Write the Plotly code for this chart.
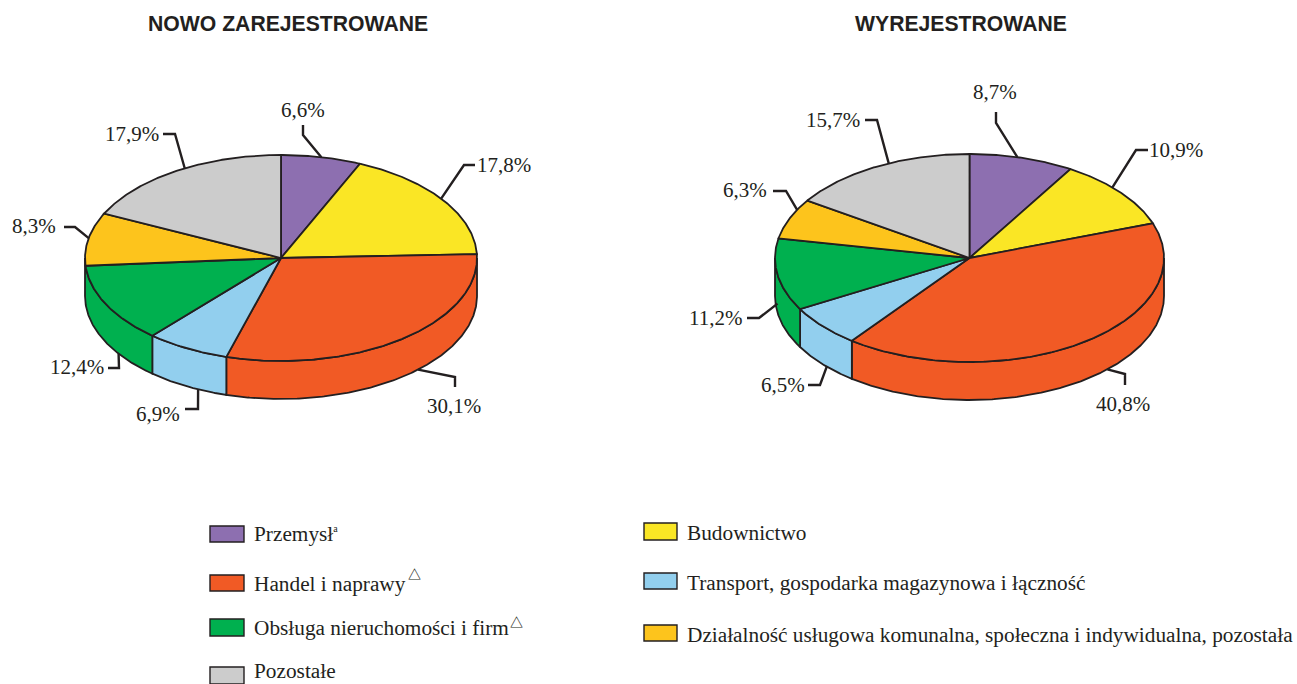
import numpy as np
import plotly.graph_objects as go

# ---- data ----
CATEGORIES = ["Przemysł", "Budownictwo", "Handel i naprawy",
              "Transport, gospodarka magazynowa i łączność",
              "Obsługa nieruchomości i firm",
              "Działalność usługowa komunalna, społeczna i indywidualna, pozostała",
              "Pozostałe"]
NEW_REGISTERED = [6.6, 17.8, 30.1, 6.9, 12.4, 8.3, 17.9]
DEREGISTERED = [8.7, 10.9, 40.8, 6.5, 11.2, 6.3, 15.7]
TITLE_NEW = "NOWO ZAREJESTROWANE"
TITLE_DEREG = "WYREJESTROWANE"

# ---- styles and layout (pixel space of a 1297x684 page) ----
COLORS = ["#8d6fb0", "#fae625", "#f15a25", "#92cfee", "#00b04f", "#fdc41c", "#cccccc"]
INK = "#231f20"
SERIF = "Liberation Serif, serif"
SANS = "Liberation Sans, sans-serif"
LABEL_SIZE = 21
LEGEND_SIZE = 21.3
TITLE_SIZE = 21.2
LINE_W = 1.8
LEADER_W = 2.4

PIES = [
    dict(values=NEW_REGISTERED, title=TITLE_NEW, title_x=288, cx=281, cy=258, rx=196, ry=103, depth=38,
         label_xy=[(303, 110), (504, 165), (454, 406), (158, 414), (77, 367), (34, 226), (132, 134)],
         # angle nudge (deg), how far down the wall, elbow, line end
         leaders=[(0, 0, (303, 135), (303, 125)), (-1, 0, (464, 165), (475, 165)),
                  (-6.4, 1, (455, 377), (455, 387)), (-3.6, 1, (198, 409), (185, 409)),
                  (-7.4, 1, (119, 368), (108, 368)), (0.5, 0, (75, 227), (64, 227)),
                  (2.8, 0, (175, 134), (163, 134))]),
    dict(values=DEREGISTERED, title=TITLE_DEREG, title_x=960.5, cx=969.5, cy=258, rx=194.5, ry=104, depth=38,
         label_xy=[(995, 92), (1176, 150), (1123, 404), (783, 385), (715, 318), (745, 190), (833, 120)],
         leaders=[(-1.4, 0, (996, 123), (996, 112)), (-3.6, 0, (1136, 150), (1148, 150)),
                  (-9, 1, (1125, 374), (1125, 385)), (-1.7, 1, (820, 385), (808, 385)),
                  (0, 0.76, (759, 318), (747, 318)), (5.4, 0, (786, 191), (773, 191)),
                  (3.7, 0, (877, 120), (865, 120))]),
]

# key box: category index, x0, x1, y0, y1, text x, text y
LEGEND = [
    (0, 210, 244, 526, 542, 252, 534), (2, 210, 244, 575, 591, 252, 584),
    (4, 210, 244, 619, 636, 252, 628), (6, 210, 244, 667, 684, 252, 671),
    (1, 644, 677, 523, 540, 685, 533), (3, 644, 677, 573, 589, 685, 583),
    (5, 644, 677, 625, 641, 685, 635),
]
TRIANGLES = [(414.5, 573), (516.5, 621.5)]

fig = go.Figure()


def ellipse(p, theta, dy=0.0):
    t = np.radians(theta)
    return p["cx"] + p["rx"] * np.sin(t), p["cy"] - p["ry"] * np.cos(t) + dy


def poly(xs, ys, color, name):
    fig.add_trace(go.Scatter(x=xs, y=ys, mode="lines", fill="toself", fillcolor=color,
                             line=dict(color=INK, width=LINE_W), name=name,
                             hoverinfo="name", showlegend=False))


for p in PIES:
    vals = np.array(p["values"], dtype=float)
    edges = np.concatenate([[0], np.cumsum(vals)]) / vals.sum() * 360
    # wall first
    for i, name in enumerate(CATEGORIES):
        a, b = max(edges[i], 90), min(edges[i + 1], 270)
        if b - a < 5:
            continue
        if 270 - b < 5:
            b = 270
        th = np.linspace(a, b, int((b - a) * 2) + 2)
        x, y = ellipse(p, th)
        xb, yb = ellipse(p, th[::-1], p["depth"])
        poly(np.r_[x, xb, x[0]], np.r_[y, yb, y[0]], COLORS[i], name)
    # top face
    for i, name in enumerate(CATEGORIES):
        th = np.linspace(edges[i], edges[i + 1], int((edges[i + 1] - edges[i]) * 2) + 2)
        x, y = ellipse(p, th)
        poly(np.r_[p["cx"], x, p["cx"]], np.r_[p["cy"], y, p["cy"]], COLORS[i],
             f"{name}: {vals[i]}%")
    # leader lines and value labels
    for i, (nudge, wall, elbow, end) in enumerate(p["leaders"]):
        mid = (edges[i] + edges[i + 1]) / 2 + nudge
        ax, ay = ellipse(p, mid, wall * p["depth"])
        fig.add_trace(go.Scatter(x=[ax, elbow[0], end[0]], y=[ay, elbow[1], end[1]], mode="lines",
                                 line=dict(color=INK, width=LEADER_W), hoverinfo="skip", showlegend=False))
        lx, ly = p["label_xy"][i]
        fig.add_annotation(x=lx, y=ly, text=f"{vals[i]:.1f}".replace(".", ",") + "%", showarrow=False,
                           xanchor="center", yanchor="middle",
                           font=dict(family=SERIF, size=LABEL_SIZE, color=INK))
    fig.add_annotation(x=p["title_x"], y=23, text=p["title"], showarrow=False, xanchor="center",
                       yanchor="middle", font=dict(family=SANS, size=TITLE_SIZE, color=INK, weight="bold"))

for i, x0, x1, y0, y1, tx, ty in LEGEND:
    fig.add_shape(type="rect", x0=x0, x1=x1, y0=y0, y1=y1, fillcolor=COLORS[i],
                  line=dict(color=INK, width=1.4), layer="above")
    text = CATEGORIES[i]
    if i == 0:
        text += '<sup><span style="font-size:10px">a</span></sup>'
    fig.add_annotation(x=tx, y=ty, text=text, showarrow=False, xanchor="left", yanchor="middle",
                       font=dict(family=SERIF, size=LEGEND_SIZE, color=INK))
for tx, ty in TRIANGLES:
    fig.add_annotation(x=tx, y=ty, text="△", showarrow=False, xanchor="center", yanchor="middle",
                       font=dict(family="Noto Sans CJK SC", size=13, color=INK, weight="bold"))

fig.update_layout(width=1297, height=684, margin=dict(l=0, r=0, t=0, b=0),
                  paper_bgcolor="white", plot_bgcolor="white", showlegend=False,
                  xaxis=dict(range=[0, 1297], visible=False, fixedrange=True),
                  yaxis=dict(range=[684, 0], visible=False, fixedrange=True))
fig.write_html("out.html", config=dict(displayModeBar=False),
               post_script="document.body.style.margin='0';document.body.style.overflow='hidden';")
